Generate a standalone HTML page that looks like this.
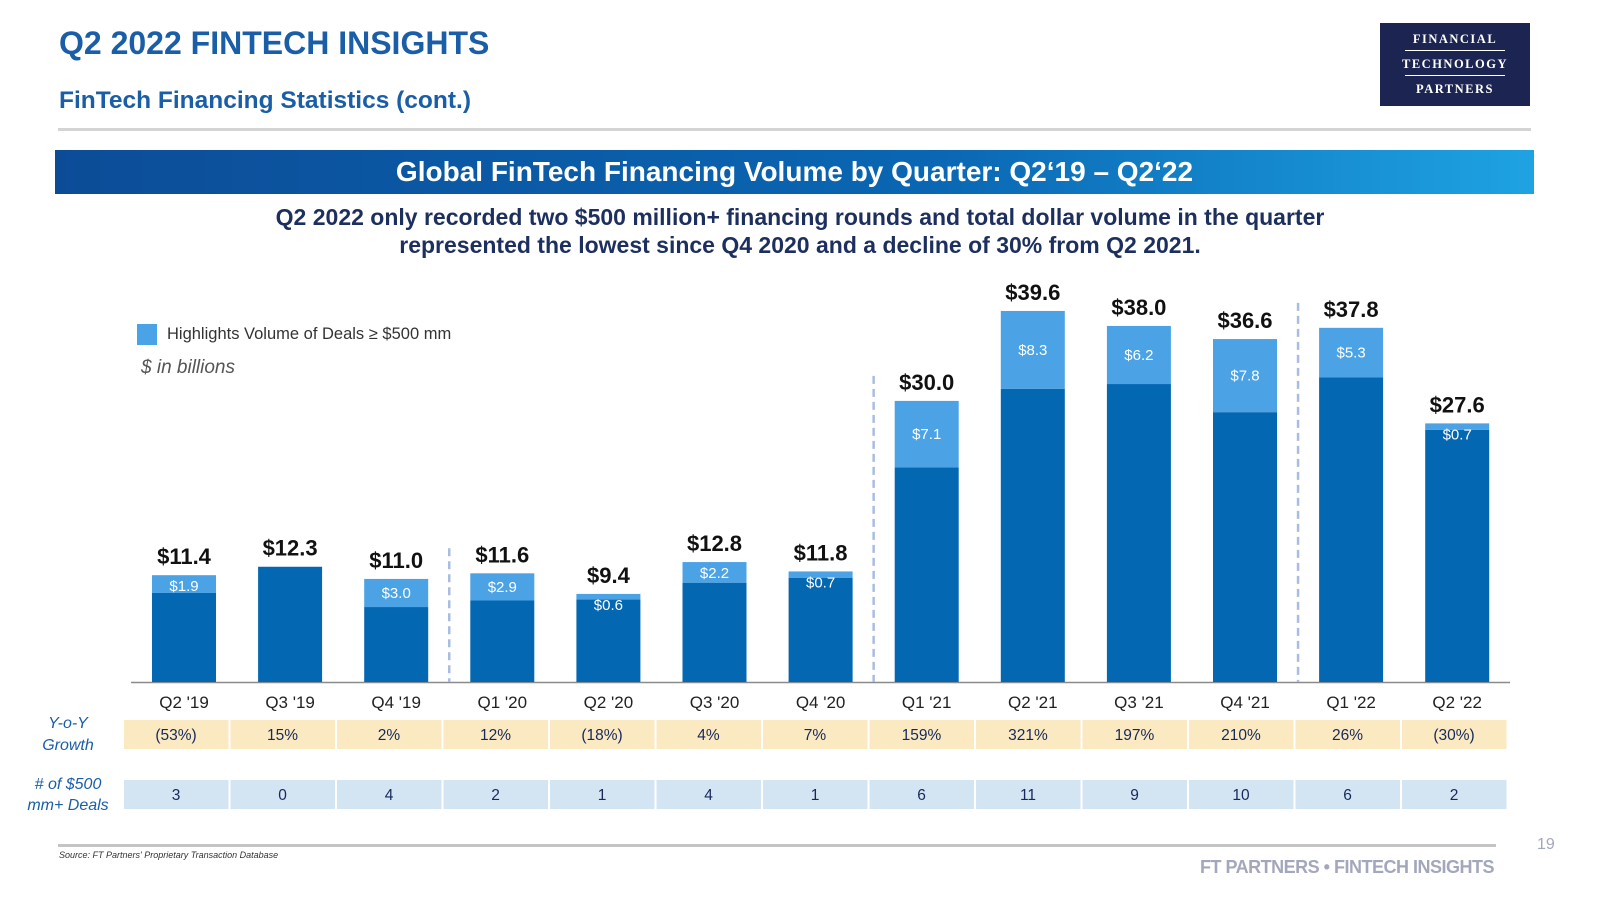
<!DOCTYPE html>
<html><head><meta charset="utf-8"><style>
body{margin:0;width:1600px;height:900px;background:#fff;font-family:"Liberation Sans",sans-serif;overflow:hidden;position:relative}
.a{position:absolute}
</style></head><body>
<div class="a" style="left:59px;top:25px;font-size:32px;font-weight:bold;color:#1a5ea8">Q2 2022 FINTECH INSIGHTS</div>
<div class="a" style="left:59px;top:87px;font-size:24.5px;font-weight:bold;color:#1a5ea8">FinTech Financing Statistics (cont.)</div>
<div class="a" style="left:58px;top:128px;width:1473px;height:3px;background:#d4d4d4"></div>
<div class="a" style="left:1380px;top:23px;width:150px;height:83px;background:#1c2452;color:#fff;font-family:'Liberation Serif',serif;font-size:12.5px;font-weight:bold;letter-spacing:1.5px;text-align:center">
<div style="margin-top:9px">FINANCIAL</div><div style="margin:3px auto;width:100px;height:1px;background:#fff"></div>
<div style="margin-top:6px">TECHNOLOGY</div><div style="margin:3px auto;width:100px;height:1px;background:#fff"></div>
<div style="margin-top:6px">PARTNERS</div></div>
<div class="a" style="left:55px;top:150px;width:1479px;height:44px;background:linear-gradient(90deg,#0c4c97,#0a67b3 60%,#1ea3e2);color:#fff;font-size:28px;font-weight:bold;text-align:center;line-height:44px">Global FinTech Financing Volume by Quarter: Q2‘19 – Q2‘22</div>
<div class="a" style="left:0;top:203px;width:1600px;text-align:center;font-size:23px;font-weight:bold;color:#1c2f5e;line-height:28px">Q2 2022 only recorded two $500 million+ financing rounds and total dollar volume in the quarter<br>represented the lowest since Q4 2020 and a decline of 30% from Q2 2021.</div>
<div class="a" style="left:137px;top:324px;width:20px;height:21px;background:#4aa3e6"></div>
<div class="a" style="left:167px;top:325px;font-size:16.5px;color:#333">Highlights Volume of Deals ≥ $500 mm</div>
<div class="a" style="left:141px;top:357px;font-size:19px;font-style:italic;color:#555">$ in billions</div>
<svg class="a" style="left:0;top:0" width="1600" height="900" id="chart"></svg>
<div class="a" style="left:58px;top:844px;width:1438px;height:3px;background:#c4c4c4"></div>
<div class="a" style="left:59px;top:850px;font-size:9px;font-style:italic;color:#333">Source: FT Partners' Proprietary Transaction Database</div>
<div class="a" style="right:106px;top:857px;font-size:18px;font-weight:bold;color:#a3a7bb;letter-spacing:-0.5px">FT PARTNERS • FINTECH INSIGHTS</div>
<div class="a" style="left:1537px;top:836px;font-size:16px;color:#a3a7bb">19</div>
<script>
const categories=["Q2 '19","Q3 '19","Q4 '19","Q1 '20","Q2 '20","Q3 '20","Q4 '20","Q1 '21","Q2 '21","Q3 '21","Q4 '21","Q1 '22","Q2 '22"];
const totals=[11.4,12.3,11.0,11.6,9.4,12.8,11.8,30.0,39.6,38.0,36.6,37.8,27.6];
const highlights=[1.9,null,3.0,2.9,0.6,2.2,0.7,7.1,8.3,6.2,7.8,5.3,0.7];
const yoyGrowth=["(53%)","15%","2%","12%","(18%)","4%","7%","159%","321%","197%","210%","26%","(30%)"];
const dealCounts=["3","0","4","2","1","4","1","6","11","9","10","6","2"];
const dividerAfter=[2,6,10];
const NS="http://www.w3.org/2000/svg";
const svg=document.getElementById('chart');
const base=682,pxPer=9.37,x0=184,step=106.1,bw=64;
const xC=i=>x0+i*step;
const yV=v=>base-v*pxPer;
function mk(t,a){const e=document.createElementNS(NS,t);for(const k in a)e.setAttribute(k,a[k]);svg.appendChild(e);return e;}
let ax=mk('line',{x1:131,x2:1510,y1:base+0.5,y2:base+0.5,stroke:'#8a8a8a','stroke-width':1.5});


dividerAfter.forEach((d,k)=>{
  const x=(xC(d)+xC(d+1))/2;
  const top=yV(Math.max(totals[d],totals[d+1]))-25;
  const l=mk('line',{x1:x,x2:x,y1:top,y2:base,stroke:'#a9bde0','stroke-width':2.5,'stroke-dasharray':'8,5'});
  
  
});
categories.forEach((c,i)=>{
  const x=xC(i),t=totals[i],h=highlights[i]||0;
  const b=mk('rect',{x:x-bw/2,y:yV(t-h),width:bw,height:(t-h)*pxPer,fill:'#0467b2'});
  
  
  if(h){
    const hb=mk('rect',{x:x-bw/2,y:yV(t),width:bw,height:h*pxPer,fill:'#4ba3e6'});
    
    
    const ht=mk('text',{x:x,y:yV(t)+Math.max(h*pxPer/2,11)+5,'text-anchor':'middle','font-size':15,fill:'#fff'});
    ht.textContent='$'+h.toFixed(1);
    
    
  }
  const tl=mk('text',{x:x,y:yV(t)-11,'text-anchor':'middle','font-size':22,'font-weight':'bold',fill:'#111'});
  tl.textContent='$'+t.toFixed(1);
  
  
  const cl=mk('text',{x:x,y:708,'text-anchor':'middle','font-size':17,fill:'#222'});
  cl.textContent=c;
  
  
  const cx=124+i*106.5;
  const r1=mk('rect',{x:cx,y:720,width:104.5,height:29,fill:'#fbe9c2'});
  
  
  const t1=mk('text',{x:cx+52,y:740,'text-anchor':'middle','font-size':15.5,fill:'#16295a'});
  t1.textContent=yoyGrowth[i];
  
  
  const r2=mk('rect',{x:cx,y:780,width:104.5,height:29,fill:'#d3e4f3'});
  
  
  const t2=mk('text',{x:cx+52,y:800,'text-anchor':'middle','font-size':15.5,fill:'#16295a'});
  t2.textContent=dealCounts[i];
  
  
});
[["Y-o-Y",723],["Growth",745],["# of $500",784],["mm+ Deals",805]].forEach(([s,y])=>{
  const t=mk('text',{x:68,y:y+5,'text-anchor':'middle','font-size':16,'font-style':'italic',fill:'#1a5ea8'});
  t.textContent=s;
  
  
});
</script>
</body></html>
